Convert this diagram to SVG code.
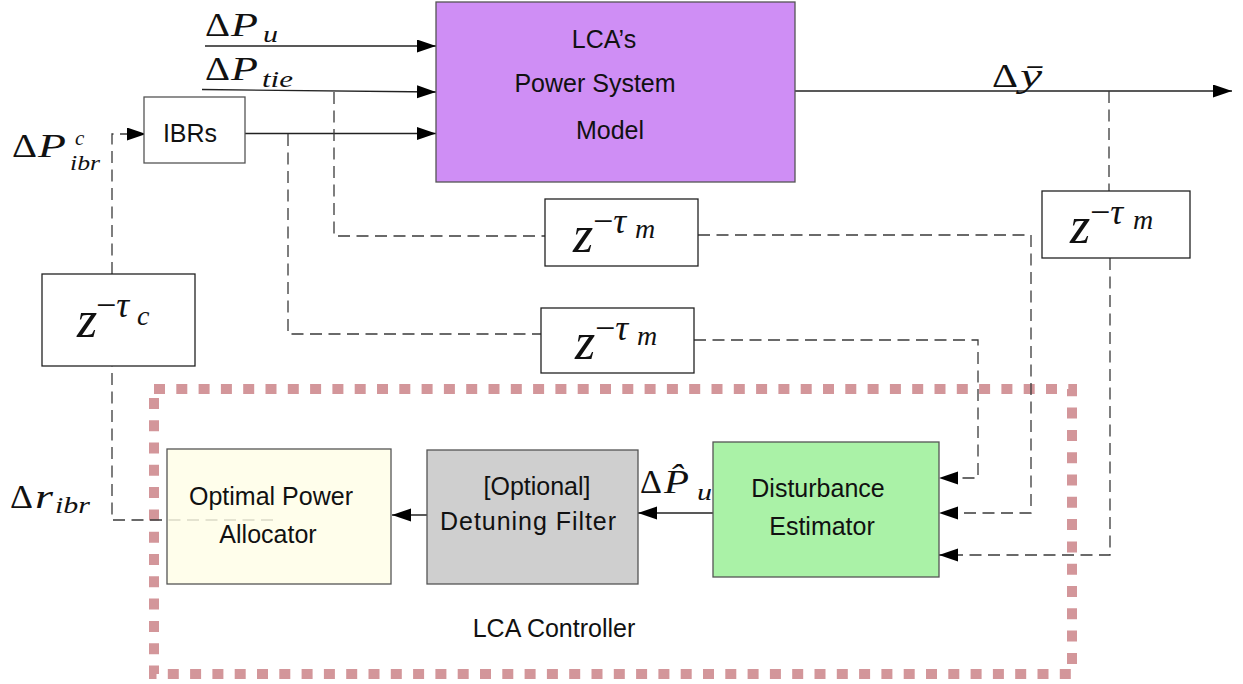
<svg xmlns="http://www.w3.org/2000/svg" width="1243" height="684" viewBox="0 0 1243 684">
  <style>
    .box { stroke: #555; stroke-width: 1.3; }
    .zbox { fill: #fff; stroke: #222; stroke-width: 1.3; }
    .lbl { font-family: "Liberation Sans", Arial, sans-serif; font-size: 25px; fill: #111; text-anchor: middle; }
    .m { font-family: "Liberation Serif", "Times New Roman", serif; fill: #111; }
    .it { font-style: italic; }
    .big { font-size: 33px; }
    .sub { font-size: 23px; font-style: italic; }
    .zz { font-size: 52px; font-style: italic; }
    .sup { font-size: 36px; }
    .zs { font-size: 28px; font-style: italic; }
    .wire { fill: none; stroke: #222; stroke-width: 1.3; }
    .dash { fill: none; stroke: #3a3a3a; stroke-width: 1.3; stroke-dasharray: 12 6.5; }
    .frame { fill: none; stroke: #d3969a; stroke-width: 10; stroke-dasharray: 11 11.3; }
  </style>
  <defs>
    <marker id="arr" markerUnits="userSpaceOnUse" markerWidth="20" markerHeight="14" refX="19" refY="6.5" orient="auto">
      <path d="M0,0 L19,6.5 L0,13 z" fill="#000"/>
    </marker>
  </defs>

  <rect width="1243" height="684" fill="#fff"/>

  <!-- controller boundary -->
  <rect class="frame" x="154" y="389" width="918" height="285"/>

  <!-- connectors -->
  <g id="connectors">
    <!-- inputs to the plant -->
    <path class="wire" d="M205,46 H436" marker-end="url(#arr)"/>
    <path class="wire" d="M202,89.5 L436,92" marker-end="url(#arr)"/>
    <path class="wire" d="M245,133.5 H436" marker-end="url(#arr)"/>
    <!-- plant output -->
    <path class="wire" d="M795,91 H1232" marker-end="url(#arr)"/>
    <!-- delayed measurement of tie-line power -->
    <path class="dash" d="M334,92 V236 H545"/>
    <path class="dash" d="M698,235 H1031 V513 H939" marker-end="url(#arr)"/>
    <!-- delayed measurement of IBR output -->
    <path class="dash" d="M288,134 V334 H541"/>
    <path class="dash" d="M694,340 H978 V478 H939" marker-end="url(#arr)"/>
    <!-- delayed measurement of output -->
    <path class="dash" d="M1109,91 V191"/>
    <path class="dash" d="M1110,258 V555 H939" marker-end="url(#arr)"/>
    <!-- internal controller chain -->
    <path class="wire" d="M713,513 H638" marker-end="url(#arr)"/>
    <path class="wire" d="M427,515 H392" marker-end="url(#arr)"/>
    <!-- command path back to the IBRs -->
    <path class="dash" d="M273,520 H112 V366"/>
    <path class="dash" d="M112,274 V134 H146" marker-end="url(#arr)"/>
  </g>

  <!-- plant -->
  <g id="plant">
    <rect class="box" x="436" y="2" width="359" height="180" fill="#cf8ef5" stroke="#8a7a96"/>
    <text class="lbl" x="604" y="48">LCA’s</text>
    <text class="lbl" x="595" y="92">Power System</text>
    <text class="lbl" x="610" y="139">Model</text>
  </g>

  <g id="ibrs">
    <rect class="box" x="144" y="97" width="101" height="66" fill="#fff"/>
    <text class="lbl" x="190" y="142">IBRs</text>
  </g>

  <g id="delay-tie">
    <rect class="zbox" x="545" y="199" width="153" height="67"/>
    <text class="m zz" x="573" y="252">z</text>
    <text class="m sup" x="593" y="233">−<tspan class="it">τ</tspan></text>
    <text class="m zs" x="635" y="238">m</text>
  </g>

  <g id="delay-ibr">
    <rect class="zbox" x="541" y="308" width="153" height="65"/>
    <text class="m zz" x="575" y="359">z</text>
    <text class="m sup" x="595" y="340">−<tspan class="it">τ</tspan></text>
    <text class="m zs" x="637" y="345">m</text>
  </g>

  <g id="delay-out">
    <rect class="zbox" x="1042" y="191" width="148" height="67"/>
    <text class="m zz" x="1070" y="243">z</text>
    <text class="m sup" x="1090" y="224">−<tspan class="it">τ</tspan></text>
    <text class="m zs" x="1133" y="229">m</text>
  </g>

  <g id="delay-cmd">
    <rect class="zbox" x="42" y="274" width="153" height="92"/>
    <text class="m zz" x="77" y="337">z</text>
    <text class="m sup" x="96" y="317">−<tspan class="it">τ</tspan></text>
    <text class="m zs" x="137" y="325">c</text>
  </g>

  <g id="allocator">
    <rect class="box" x="167" y="449" width="224" height="135" fill="#fffee6" fill-opacity="0.82"/>
    <text class="lbl" x="271" y="505">Optimal Power</text>
    <text class="lbl" x="268" y="543">Allocator</text>
  </g>

  <g id="detuning-filter">
    <rect class="box" x="427" y="450" width="211" height="134" fill="#cfcfcf"/>
    <text class="lbl" x="537" y="495">[Optional]</text>
    <text class="lbl" x="528" y="530" textLength="176" lengthAdjust="spacing">Detuning Filter</text>
  </g>

  <g id="estimator">
    <rect class="box" x="713" y="442" width="226" height="135" fill="#aaf2a7"/>
    <text class="lbl" x="818" y="497">Disturbance</text>
    <text class="lbl" x="822" y="535">Estimator</text>
  </g>

  <text class="lbl" x="554" y="637">LCA Controller</text>

  <!-- signal labels -->
  <g id="labels">
    <text class="m big" x="205" y="36" textLength="25" lengthAdjust="spacingAndGlyphs">Δ</text>
    <text class="m big it" x="231" y="36" textLength="27" lengthAdjust="spacingAndGlyphs">P</text>
    <text class="m sub" x="263" y="42" textLength="15" lengthAdjust="spacingAndGlyphs">u</text>

    <text class="m big" x="205" y="80" textLength="25" lengthAdjust="spacingAndGlyphs">Δ</text>
    <text class="m big it" x="231" y="80" textLength="27" lengthAdjust="spacingAndGlyphs">P</text>
    <text class="m sub" x="262" y="87" textLength="31" lengthAdjust="spacingAndGlyphs">tie</text>

    <text class="m big" x="12" y="157" textLength="25" lengthAdjust="spacingAndGlyphs">Δ</text>
    <text class="m big it" x="38" y="157" textLength="28" lengthAdjust="spacingAndGlyphs">P</text>
    <text class="m sub" x="75" y="145" style="font-size:21px">c</text>
    <text class="m sub" x="70" y="170" style="font-size:22px" textLength="30" lengthAdjust="spacingAndGlyphs">ibr</text>

    <text class="m big" x="992" y="87" textLength="26" lengthAdjust="spacingAndGlyphs">Δ</text>
    <text class="m big it" x="1020" y="87" textLength="22" lengthAdjust="spacingAndGlyphs">ȳ</text>

    <text class="m big" x="640" y="493" textLength="22" lengthAdjust="spacingAndGlyphs">Δ</text>
    <text class="m big it" x="664" y="493" textLength="25" lengthAdjust="spacingAndGlyphs">P̂</text>
    <text class="m sub" x="697" y="500" textLength="15" lengthAdjust="spacingAndGlyphs">u</text>

    <text class="m big" x="10" y="508" textLength="23" lengthAdjust="spacingAndGlyphs">Δ</text>
    <text class="m big it" x="35" y="508" textLength="18" lengthAdjust="spacingAndGlyphs">r</text>
    <text class="m sub" x="55" y="513" textLength="35" lengthAdjust="spacingAndGlyphs">ibr</text>
  </g>
</svg>
